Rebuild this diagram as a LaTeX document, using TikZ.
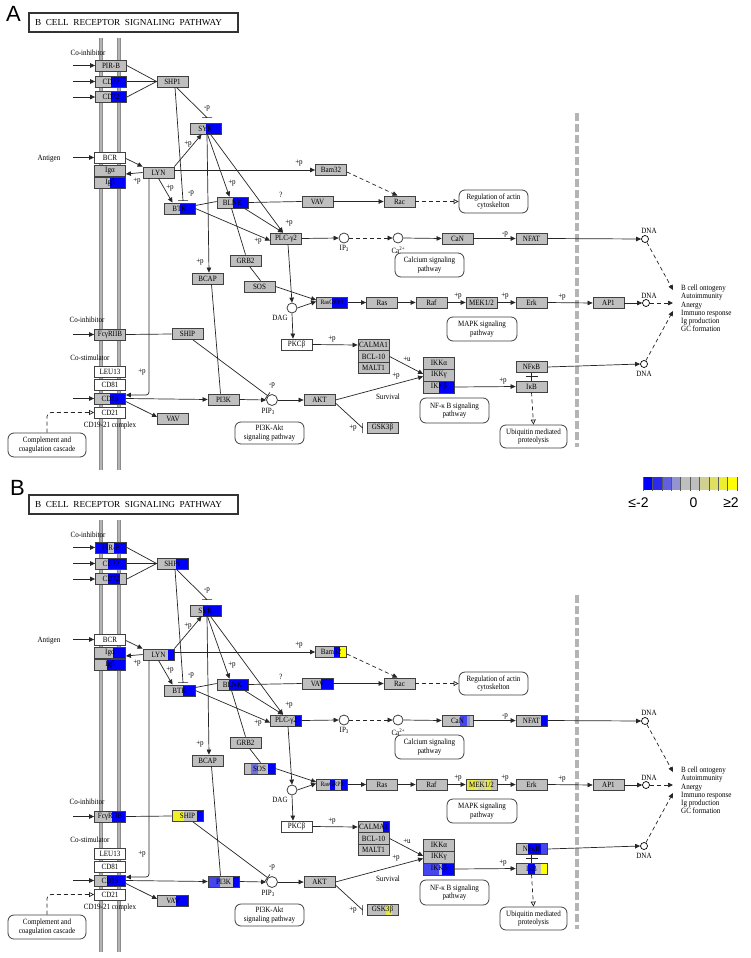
\documentclass[tikz,border=0pt]{standalone}
\usepackage{fontspec}
\setmainfont{Liberation Serif}
\newfontfamily\kgfont[FakeStretch=0.88]{Liberation Serif}
\newfontfamily\lgfont{Liberation Sans}
\usetikzlibrary{arrows.meta,calc}
\definecolor{kgray}{HTML}{BFBFBF}
\definecolor{kedge}{HTML}{404040}
\definecolor{kb}{HTML}{0000FF}
\definecolor{kmb}{HTML}{4646EE}
\definecolor{klb}{HTML}{7070E0}
\definecolor{kvlb}{HTML}{9696D2}
\definecolor{ky}{HTML}{FFFF00}
\definecolor{ksy}{HTML}{F0F028}
\definecolor{kdy}{HTML}{E6E650}
\definecolor{kpy}{HTML}{D4D49A}
\definecolor{kmem}{HTML}{B4B4B4}
\definecolor{kmemd}{HTML}{8C8C8C}
\definecolor{ksep}{HTML}{B4B4B4}
\definecolor{lgA}{HTML}{0000FF}
\definecolor{lgB}{HTML}{2A2AF0}
\definecolor{lgC}{HTML}{6060E0}
\definecolor{lgD}{HTML}{9494D0}
\definecolor{lgE}{HTML}{BEBEBE}
\definecolor{lgF}{HTML}{BEBEBE}
\definecolor{lgG}{HTML}{D0D090}
\definecolor{lgH}{HTML}{E0E060}
\definecolor{lgI}{HTML}{EEEE30}
\definecolor{lgJ}{HTML}{FFFF00}
\newcommand\kgf{\kgfont\fontsize{8}{8.4}\selectfont}
\newcommand\kgs{\kgfont\fontsize{6.6}{7}\selectfont}
\newcommand\subs[1]{\raisebox{-1.5pt}{\fontsize{5.5}{6}\selectfont #1}}
\newcommand\sups[1]{\raisebox{3pt}{\fontsize{5.5}{6}\selectfont #1}}
\tikzset{
 gene/.style={draw=kedge, fill=kgray, minimum width=31pt, minimum height=11pt, inner sep=0pt, font=\kgf, line width=0.8pt},
 wgene/.style={gene, fill=white},
 cpd/.style={circle, draw=kedge, fill=white, minimum size=10pt, inner sep=0pt, line width=0.8pt},
 dna/.style={circle, draw=black, fill=white, minimum size=7pt, inner sep=0pt, line width=0.7pt},
 mapbox/.style={draw=kedge, rounded corners=6pt, fill=white, align=center, font=\kgf, inner sep=0pt, line width=0.8pt},
 lbl/.style={font=\kgf, inner sep=0pt},
 ln/.style={draw=black!85, line width=0.7pt},
 arr/.style={ln, -{Triangle[length=5pt,width=4.5pt]}},
 darr/.style={arr, dash pattern=on 4pt off 3pt},
 oarr/.style={ln, dash pattern=on 4pt off 3pt, -{Triangle[open,length=5pt,width=5pt]}},
 memo/.style={draw=kmemd, line width=4pt},
 memi/.style={draw=kmem, line width=2pt},
 sepline/.style={draw=ksep, line width=4pt, dash pattern=on 8pt off 3pt},
 titlebox/.style={draw=black!80, line width=1.2pt, minimum width=209pt, minimum height=19pt, inner sep=0pt, font=\fontsize{9.2}{10}\selectfont},
 panel/.style={font=\lgfont\fontsize{22}{22}\selectfont, inner sep=0pt},
 legtxt/.style={font=\lgfont\fontsize{14}{14}\selectfont, inner sep=0pt},
 segs/.style={path picture={\foreach \pa/\pb/\pc in #1 {\fill[fill=\pc] ($(path picture bounding box.south west)!\pa!(path picture bounding box.south east)$) rectangle ($(path picture bounding box.north west)!\pb!(path picture bounding box.north east)$);}}}
}
\newcommand\segsA{%
\def\sPIRB{0/0/kgray}\def\sCDa{0.5/1/kb}\def\sCDb{0.5/1/kb}\def\sSHPa{0/0/kgray}%
\def\sSYK{0.5/1/kb}\def\sIGA{0/0/kgray}\def\sIGB{0.5/1/kb}\def\sLYN{0/0/kgray}%
\def\sBTK{0.5/1/kb}\def\sBLNK{0.5/1/kb}\def\sSOS{0/0/kgray}\def\sFCGR{0/0/kgray}%
\def\sSHIP{0/0/kgray}\def\sCDc{0.5/1/kb}\def\sVAVb{0/0/kgray}\def\sPIK{0/0/kgray}%
\def\sBAM{0/0/kgray}\def\sVAVa{0/0/kgray}\def\sPLC{0/0/kgray}\def\sCAN{0/0/kgray}%
\def\sNFAT{0/0/kgray}\def\sRGRP{0.5/1/kb}\def\sMEK{0/0/kgray}\def\sCALM{0/0/kgray}%
\def\sIKKB{0.5/1/kb}\def\sNFKB{0/0/kgray}\def\sIKB{0/0/kgray}\def\sGSK{0/0/kgray}}
\newcommand\segsB{%
\def\sPIRB{0/0.4/kb,0.6/1/kb}\def\sCDa{0.4/1/kb}\def\sCDb{0.4/0.8/kb}\def\sSHPa{0.6/1/kb}%
\def\sSYK{0.42/1/kb}\def\sIGA{0.6/1/kb}\def\sIGB{0.4/1/kb}\def\sLYN{0.8/1/kb}%
\def\sBTK{0.6/1/kb}\def\sBLNK{0.4/1/kb}\def\sSOS{0.21/0.45/klb,0.79/1/kb}\def\sFCGR{0.55/1/kb}%
\def\sSHIP{0/0.4/ksy,0.8/1/kb}\def\sCDc{0.4/1/kb}\def\sVAVb{0.6/1/kb}\def\sPIK{0/0.38/kmb,0.8/1/kb}%
\def\sBAM{0.6/0.8/kb,0.8/1/ky}\def\sVAVa{0.6/1/kb}\def\sPLC{0.8/1/kb}\def\sCAN{0.58/0.8/kmb,0.8/0.9/kvlb}%
\def\sNFAT{0.8/1/kb}\def\sRGRP{0.42/0.6/kb,0.8/1/kb}\def\sMEK{0/0.4/kdy,0.4/0.6/kpy,0.6/0.8/kdy}\def\sCALM{0.8/1/kb}%
\def\sIKKB{0/0.5/kmb,0.6/1/kb}\def\sNFKB{0.4/0.8/kb,0.8/1/kmb}\def\sIKB{0.4/0.6/kb,0.8/1/ky}\def\sGSK{0.6/0.8/kdy}}
\newcommand\pw[1]{%
\draw[memo] (101,38) -- (101,470);
\draw[memi] (101,38) -- (101,470);
\draw[memo] (119,38) -- (119,470);
\draw[memi] (119,38) -- (119,470);
\draw[sepline] (577,113) -- (577,447);
\node[titlebox] (#1title) at (133.5,22.5) {\makebox[197pt][l]{\makebox[187pt][s]{B CELL RECEPTOR SIGNALING PATHWAY}}};
\node[lbl] (#1coinh) at (88,53) {Co-inhibitor};
\node[lbl] (#1antigen) at (49,159) {Antigen};
\node[lbl] (#1coinhb) at (87,320) {Co-inhibitor};
\node[lbl] (#1costim) at (90,358) {Co-stimulator};
\node[lbl] (#1cdcx) at (110,426) {CD19-21 complex};
% genes
\node[gene,segs=\sPIRB] (#1pirb) at (111,65.5) {PIR-B};
\node[gene,segs=\sCDa] (#1cd22) at (111,81.5) {CD22};
\node[gene,segs=\sCDb] (#1cd72) at (111,97) {CD72};
\node[gene,segs=\sSHPa] (#1shp1) at (172.5,81.5) {SHP1};
\node[gene,segs=\sSYK] (#1syk) at (205.5,128.5) {SYK};
\node[wgene] (#1bcr) at (110,157.5) {BCR};
\node[gene,segs=\sIGA] (#1iga) at (110,171) {Igα};
\node[gene,segs=\sIGB] (#1igb) at (110,182.5) {Igβ};
\node[gene,segs=\sLYN] (#1lyn) at (158.5,172.5) {LYN};
\node[gene,segs=\sBTK] (#1btk) at (179.5,208.5) {BTK};
\node[gene,segs=\sBLNK] (#1blnk) at (232.5,202.5) {BLNK};
\node[gene,segs=\sBAM] (#1bam) at (331,170) {Bam32};
\node[gene,segs=\sVAVa] (#1vava) at (317.5,201.5) {VAV};
\node[gene] (#1rac) at (399.5,201.5) {Rac};
\node[gene,segs=\sPLC] (#1plcg) at (286,238.5) {PLC-γ2};
\node[gene,segs=\sCAN] (#1can) at (457.5,238.5) {CaN};
\node[gene,segs=\sNFAT] (#1nfat) at (531.5,238.5) {NFAT};
\node[gene] (#1grb2) at (245.5,260.5) {GRB2};
\node[gene] (#1bcap) at (207.5,278.5) {BCAP};
\node[gene,segs=\sSOS] (#1sos) at (259.5,286.5) {SOS};
\node[gene,segs=\sRGRP,font=\kgs] (#1rgrp) at (332,302.5) {RasGRP3};
\node[gene] (#1ras) at (382,302.5) {Ras};
\node[gene] (#1raf) at (431.5,302.5) {Raf};
\node[gene,segs=\sMEK] (#1mek) at (481.5,302.5) {MEK1/2};
\node[gene] (#1erk) at (531.5,302.5) {Erk};
\node[gene] (#1ap1) at (608.5,303) {AP1};
\node[gene,segs=\sFCGR] (#1fcgr) at (110,334.5) {FcγRIIB};
\node[gene,segs=\sSHIP] (#1ship) at (187.5,334) {SHIP};
\node[wgene] (#1pkcb) at (296.5,344.5) {PKCβ};
\node[gene,segs=\sCALM,minimum height=11.4pt] (#1calma) at (373.5,345) {CALMA1};
\node[gene,minimum height=11.4pt] (#1bcl) at (373.5,356.4) {BCL-10};
\node[gene,minimum height=11.4pt] (#1malt) at (373.5,367.8) {MALT1};
\node[gene,minimum height=12pt] (#1ikka) at (439,363) {IKKα};
\node[gene,minimum height=12pt] (#1ikkg) at (439,375) {IKKγ};
\node[gene,segs=\sIKKB,minimum height=12pt] (#1ikkb) at (439,387) {IKKβ};
\node[gene,segs=\sNFKB] (#1nfkb) at (531.5,367) {NFκB};
\node[gene,segs=\sIKB] (#1ikb) at (531.5,386.5) {IκB};
\node[wgene] (#1leu) at (110,371.5) {LEU13};
\node[wgene] (#1cd81) at (110,385) {CD81};
\node[gene,segs=\sCDc] (#1cd19) at (110,398.5) {CD19};
\node[wgene] (#1cd21) at (110,412.5) {CD21};
\node[gene,segs=\sPIK] (#1pi3k) at (223.5,399.5) {PI3K};
\node[gene,segs=\sVAVb] (#1vavb) at (173,419) {VAV};
\node[gene] (#1akt) at (319.5,400) {AKT};
\node[gene,segs=\sGSK] (#1gsk) at (382.5,428) {GSK3β};
% compounds
\node[cpd] (#1ip3) at (344,238) {};
\node[lbl] (#1ip3l) at (344,248.5) {IP\subs{3}};
\node[cpd] (#1ca) at (398,238) {};
\node[lbl] (#1cal) at (398,250) {Ca\sups{2+}};
\node[cpd] (#1dag) at (292,308) {};
\node[lbl] (#1dagl) at (280,317.5) {DAG};
\node[cpd,minimum size=11pt] (#1pip3) at (272,400) {};
\node[lbl] (#1pip3l) at (268,411.5) {PIP\subs{3}};
\node[dna] (#1dna1) at (645,239) {};
\node[lbl] (#1dna1l) at (649,230.5) {DNA};
\node[dna] (#1dna2) at (646,303) {};
\node[lbl] (#1dna2l) at (649,295.5) {DNA};
\node[dna] (#1dna3) at (644,364) {};
\node[lbl] (#1dna3l) at (644,373.5) {DNA};
% maps
\node[mapbox,minimum width=69pt,minimum height=23pt] (#1actin) at (493.5,201.5) {Regulation of actin\\cytoskelton};
\node[mapbox,minimum width=69pt,minimum height=24pt] (#1calc) at (429.5,265) {Calcium signaling\\pathway};
\node[mapbox,minimum width=70pt,minimum height=24pt] (#1mapk) at (482,329) {MAPK signaling\\pathway};
\node[mapbox,minimum width=69pt,minimum height=25pt] (#1nfkbm) at (454.5,410.5) {NF-κ B signaling\\pathway};
\node[mapbox,minimum width=67pt,minimum height=23pt] (#1ubiq) at (533.5,436.5) {Ubiquitin mediated\\proteolysis};
\node[mapbox,minimum width=69pt,minimum height=22pt] (#1pka) at (269.5,433) {PI3K-Akt\\signaling pathway};
\node[mapbox,minimum width=78pt,minimum height=24pt] (#1comp) at (47,445) {Complement and\\coagulation cascade};
\node[lbl,anchor=west,align=left,font=\kgfont\fontsize{8}{8.2}\selectfont] (#1out) at (681,308.5) {B cell ontogeny\\Autoimmunity\\Anergy\\Immuno response\\Ig production\\GC formation};
% inputs
\coordinate (#1in1) at (73,65.5);
\coordinate (#1in2) at (73,81.5);
\coordinate (#1in3) at (73,97);
\coordinate (#1in4) at (73,157.5);
\coordinate (#1in5) at (73,334.5);
\coordinate (#1in6) at (73,398.5);
\draw[arr] (#1in1) -- (#1pirb.west);
\draw[arr] (#1in2) -- (#1cd22.west);
\draw[arr] (#1in3) -- (#1cd72.west);
\draw[arr] (#1in4) -- (#1bcr.west);
\draw[arr] (#1in5) -- (#1fcgr.west);
\draw[arr] (#1in6) -- (#1cd19.west);
% edges
\draw[ln] (#1pirb.east) -- (#1shp1.west);
\draw[ln] (#1cd22.east) -- (#1shp1.west);
\draw[ln] (#1cd72.east) -- (#1shp1.west);
\draw[ln] ($(#1shp1.south)+(4,0)$) -- ($(#1syk.north)+(1.5,-5)$) ++(-5,0) -- ++(10,0);
\node[lbl] (#1m1) at (207,108) {-p};
\draw[ln] ($(#1shp1.south)+(2.5,0)$) -- ($(#1btk.north)+(3.5,-2)$) ++(-5,0) -- ++(10,0);
\node[lbl] (#1m2) at (191,193) {-p};
\draw[arr] (#1lyn.north east) -- ($(#1syk.south west)+(12,0)$);
\node[lbl] (#1p1) at (188,144) {+p};
\draw[arr] (#1lyn.west) -- ($(#1iga.east)+(0,3)$);
\node[lbl] (#1p2) at (137,181) {+p};
\draw[arr] ($(#1bcr.east)+(0,1)$) -- (#1lyn.north west);
\draw[arr] ($(#1lyn.east)+(0,-2.5)$) -- (#1bam.west);
\node[lbl] (#1p3) at (299,163) {+p};
\draw[arr] (#1lyn.south) -- ($(#1btk.north)+(-7,0)$);
\node[lbl] (#1p4) at (170,188) {+p};
\draw[arr,rounded corners=3pt] ($(#1lyn.south)+(-9.5,0)$) |- ($(#1cd19.east)+(0,-3.5)$);
\node[lbl] (#1p5) at (142,372) {+p};
\draw[arr] ($(#1syk.south)+(2,0)$) -- ($(#1blnk.north)+(-3,0)$);
\node[lbl] (#1p6) at (232,183) {+p};
\draw[arr] ($(#1syk.south)+(1.5,0)$) -- ($(#1bcap.north)+(1.5,0)$);
\node[lbl] (#1p7) at (200,262) {+p};
\draw[arr] ($(#1syk.south)+(5,0)$) -- ($(#1plcg.north)+(-3,0)$);
\draw[arr] ($(#1blnk.south)+(12,0)$) -- ($(#1plcg.north)+(-3,0)$);
\node[lbl] (#1p8) at (289,223) {+p};
\draw[arr] (#1btk.east) -- ($(#1plcg.west)+(0,2)$);
\node[lbl] (#1p9) at (258,241) {+p};
\draw[ln] ($(#1btk.east)+(0,-3)$) -- ($(#1blnk.west)+(0,-1)$);
\draw[ln] (#1blnk.east) -- (#1vava.west);
\node[lbl] (#1q) at (281,195) {?};
\draw[ln] ($(#1blnk.south)+(-1,0)$) -- (#1grb2.north);
\draw[ln] ($(#1grb2.south)+(4,0)$) -- ($(#1sos.north)+(1,0)$);
\draw[arr] (#1vava.east) -- (#1rac.west);
\draw[darr] ($(#1bam.east)+(0,2)$) -- ($(#1rac.north)+(-2,0)$);
\draw[oarr] (#1rac.east) -- (#1actin.west);
\draw[arr] (#1plcg.east) -- (#1ip3.west);
\draw[darr] (#1ip3.east) -- (#1ca.west);
\draw[arr] (#1ca.east) -- (#1can.west);
\draw[arr] (#1can.east) -- (#1nfat.west);
\node[lbl] (#1m3) at (505,234) {-p};
\draw[arr] (#1nfat.east) -- (#1dna1.west);
\draw[arr] ($(#1plcg.south)+(2,0)$) -- (#1dag.north);
\draw[arr] (#1dag.east) -- ($(#1rgrp.west)+(0,-1)$);
\draw[arr] (#1sos.east) -- ($(#1rgrp.west)+(0,-2.5)$);
\draw[arr] (#1dag.south) -- ($(#1pkcb.north)+(-3.5,0)$);
\draw[arr] (#1rgrp.east) -- (#1ras.west);
\draw[arr] (#1ras.east) -- (#1raf.west);
\draw[arr] (#1raf.east) -- (#1mek.west);
\node[lbl] (#1p10) at (458,296) {+p};
\draw[arr] (#1mek.east) -- (#1erk.west);
\node[lbl] (#1p11) at (505,296) {+p};
\draw[arr] (#1erk.east) -- (#1ap1.west);
\node[lbl] (#1p12) at (562,297) {+p};
\draw[arr] (#1ap1.east) -- (#1dna2.west);
\coordinate (#1o1) at (673,290);
\coordinate (#1o2) at (673,303);
\coordinate (#1o3) at (673,311);
\draw[darr] (#1dna1) -- (#1o1);
\draw[darr] (#1dna2) -- (#1o2);
\draw[darr] (#1dna3) -- (#1o3);
\draw[arr] (#1pkcb.east) -- (#1calma.west);
\node[lbl] (#1p13) at (332,339) {+p};
\draw[arr] (#1bcl.east) -- ($(#1ikkg.west)+(0,-1)$);
\node[lbl] (#1u1) at (407,359) {+u};
\draw[arr] (#1akt.east) -- ($(#1ikkg.west)+(0,1.5)$);
\node[lbl] (#1p14) at (396,376) {+p};
\node[lbl] (#1surv) at (388,397) {Survival};
\draw[arr] (#1ikkb.east) -- (#1ikb.west);
\node[lbl] (#1p15) at (503,381) {+p};
\draw[ln] (#1nfkb.south) -- (#1ikb.north) ($(#1nfkb.south)!0.5!(#1ikb.north)+(-6,0)$) -- ++(12,0);
\draw[arr] (#1nfkb.east) -- (#1dna3.west);
\draw[oarr] (#1ikb.south) -- (#1ubiq.north);
\draw[ln] (#1fcgr.east) -- (#1ship.west);
\draw[ln,-{Bar[width=8pt]}] ($(#1ship.south)+(5.5,0)$) -- (#1pip3.north west);
\node[lbl] (#1m4) at (272,385) {-p};
\draw[ln] ($(#1bcap.south)+(4,0)$) -- ($(#1pi3k.north)+(-3,0)$);
\draw[arr] (#1cd19.east) -- (#1pi3k.west);
\draw[arr] ($(#1cd19.east)+(0,3)$) -- ($(#1vavb.west)+(0,-2)$);
\draw[arr] (#1pi3k.east) -- (#1pip3.west);
\draw[arr] (#1pip3.east) -- (#1akt.west);
\draw[ln] ($(#1akt.east)+(0,3)$) -- ($(#1gsk.west)+(-4,0)$) ++(0,-5) -- ++(0,10);
\node[lbl] (#1p16) at (353,428) {+p};
\draw[oarr,rounded corners=4pt] (#1comp.north) |- (#1cd21.west);
}
\begin{document}
\begin{tikzpicture}[x=1pt,y=-1pt]
\path[use as bounding box] (0,0) rectangle (750,958);
\fill[white] (0,0) rectangle (750,958);
\node[panel] (letA) at (13.5,13.5) {A};
\node[panel] (letB) at (17.5,487.5) {B};
\segsA
\pw{a}
\begin{scope}[shift={(0,482)}]
\segsB
\pw{b}
\end{scope}
% legend
\foreach \i/\cc in {0/lgA,1/lgB,2/lgC,3/lgD,4/lgE,5/lgF,6/lgG,7/lgH,8/lgI,9/lgJ}
  \fill[fill=\cc] (643+9.4*\i,477) rectangle (652.4+9.4*\i,490);
\foreach \i in {0,...,10}
  \draw[draw=black!65, line width=0.6pt] (643+9.4*\i,477) -- (643+9.4*\i,491);
\node[legtxt] (leglo) at (638.5,503) {≤-2};
\node[legtxt] (legmid) at (693.5,503) {0};
\node[legtxt] (leghi) at (731,503) {≥2};
\end{tikzpicture}
\end{document}
